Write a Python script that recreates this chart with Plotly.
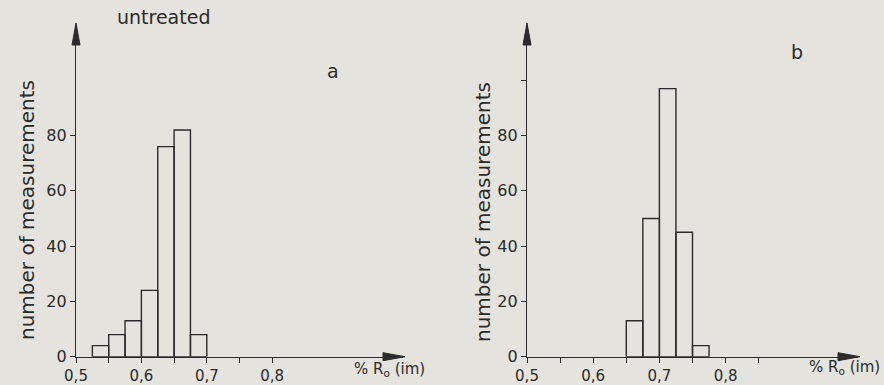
import plotly.graph_objects as go

# ---- data ----
bin_width = 0.025
untreated_bin_starts = [0.525, 0.55, 0.575, 0.6, 0.625, 0.65, 0.675]
untreated_counts = [4, 8, 13, 24, 76, 82, 8]
treated_bin_starts = [0.65, 0.675, 0.7, 0.725, 0.75]
treated_counts = [13, 50, 97, 45, 4]

x_tickvals = [0.5, 0.6, 0.7, 0.8]
x_ticktext = ["0,5", "0,6", "0,7", "0,8"]
x_minor_a = [0.55, 0.65, 0.75]
x_minor_b = [0.55, 0.65, 0.75, 0.85]
y_tickvals = [0, 20, 40, 60, 80]
y_ticktext = ["0", "20", "40", "60", "80"]
y_minor_b = [100]

W, H = 884, 385
BG = "#e5e3de"
INK = "#2b2b2b"
FONT = "DejaVu Sans"

fig = go.Figure()

def centers(starts):
    return [s + bin_width / 2 for s in starts]

fig.add_trace(go.Bar(x=centers(untreated_bin_starts), y=untreated_counts, width=bin_width,
                     marker=dict(color="rgba(0,0,0,0)", line=dict(color=INK, width=1.4)),
                     xaxis="x", yaxis="y", showlegend=False))
fig.add_trace(go.Bar(x=centers(treated_bin_starts), y=treated_counts, width=bin_width,
                     marker=dict(color="rgba(0,0,0,0)", line=dict(color=INK, width=1.4)),
                     xaxis="x2", yaxis="y2", showlegend=False))

ydom = [(H - 356.7) / H, (H - 25) / H]
xdom_a = [76 / W, 403 / W]
xdom_b = [527 / W, 858 / W]

minor_style = dict(ticks="outside", ticklen=5, tickwidth=1.2, tickcolor=INK, showgrid=False)

common_x = dict(range=[0.5, 1.0], showline=True, linecolor=INK, linewidth=1.4,
                ticks="outside", ticklen=5, tickwidth=1.2, tickcolor=INK,
                showgrid=False, zeroline=False, automargin=False,
                tickvals=x_tickvals, ticktext=x_ticktext,
                tickfont=dict(family=FONT, size=15, color=INK))
common_y = dict(range=[0, 120], showline=True, linecolor=INK, linewidth=1.4,
                ticks="outside", ticklen=5, tickwidth=1.2, tickcolor=INK,
                showgrid=False, zeroline=False, automargin=False,
                tickvals=y_tickvals, ticktext=y_ticktext,
                tickfont=dict(family=FONT, size=16, color=INK), domain=ydom)

fig.update_layout(
    width=W, height=H,
    margin=dict(l=0, r=0, t=0, b=0, autoexpand=False),
    paper_bgcolor=BG, plot_bgcolor="rgba(0,0,0,0)",
    barmode="overlay",
    xaxis=dict(domain=xdom_a, anchor="y", minor=dict(tickvals=x_minor_a, **minor_style), **common_x),
    yaxis=dict(anchor="x", **common_y),
    xaxis2=dict(domain=xdom_b, anchor="y2", minor=dict(tickvals=x_minor_b, **minor_style), **common_x),
    yaxis2=dict(anchor="x2", minor=dict(tickvals=y_minor_b, **minor_style), **common_y),
)

# arrowheads at the ends of the axes (paper refs so they are not clipped)
for xd in (xdom_a, xdom_b):
    fig.add_shape(type="path", xref="paper", yref="paper", xsizemode="pixel", ysizemode="pixel",
                  xanchor=xd[1], yanchor=ydom[0], path="M2,0 L-20,4 L-20,-4 Z",
                  fillcolor=INK, line=dict(color=INK, width=1))
    fig.add_shape(type="path", xref="paper", yref="paper", xsizemode="pixel", ysizemode="pixel",
                  xanchor=xd[0], yanchor=ydom[1], path="M0,2 L-4,-20 L4,-20 Z",
                  fillcolor=INK, line=dict(color=INK, width=1))

def ann(text, x, y, size, angle=0, xanchor="center"):
    fig.add_annotation(text=text, x=x / W, y=1 - y / H, xref="paper", yref="paper",
                       showarrow=False, textangle=angle, xanchor=xanchor, yanchor="middle",
                       font=dict(family=FONT, size=size, color=INK))

ann("untreated", 163, 17, 19)
ann("a", 333, 71, 19)
ann("b", 797, 52, 19)
ann("number of measurements", 27, 210, 20, angle=-90)
ann("number of measurements", 483, 212, 20, angle=-90)
ann("% R<sub>o</sub> (im)", 389, 369, 15)
ann("% R<sub>o</sub> (im)", 844, 367, 15)

fig.write_html("out.html")
